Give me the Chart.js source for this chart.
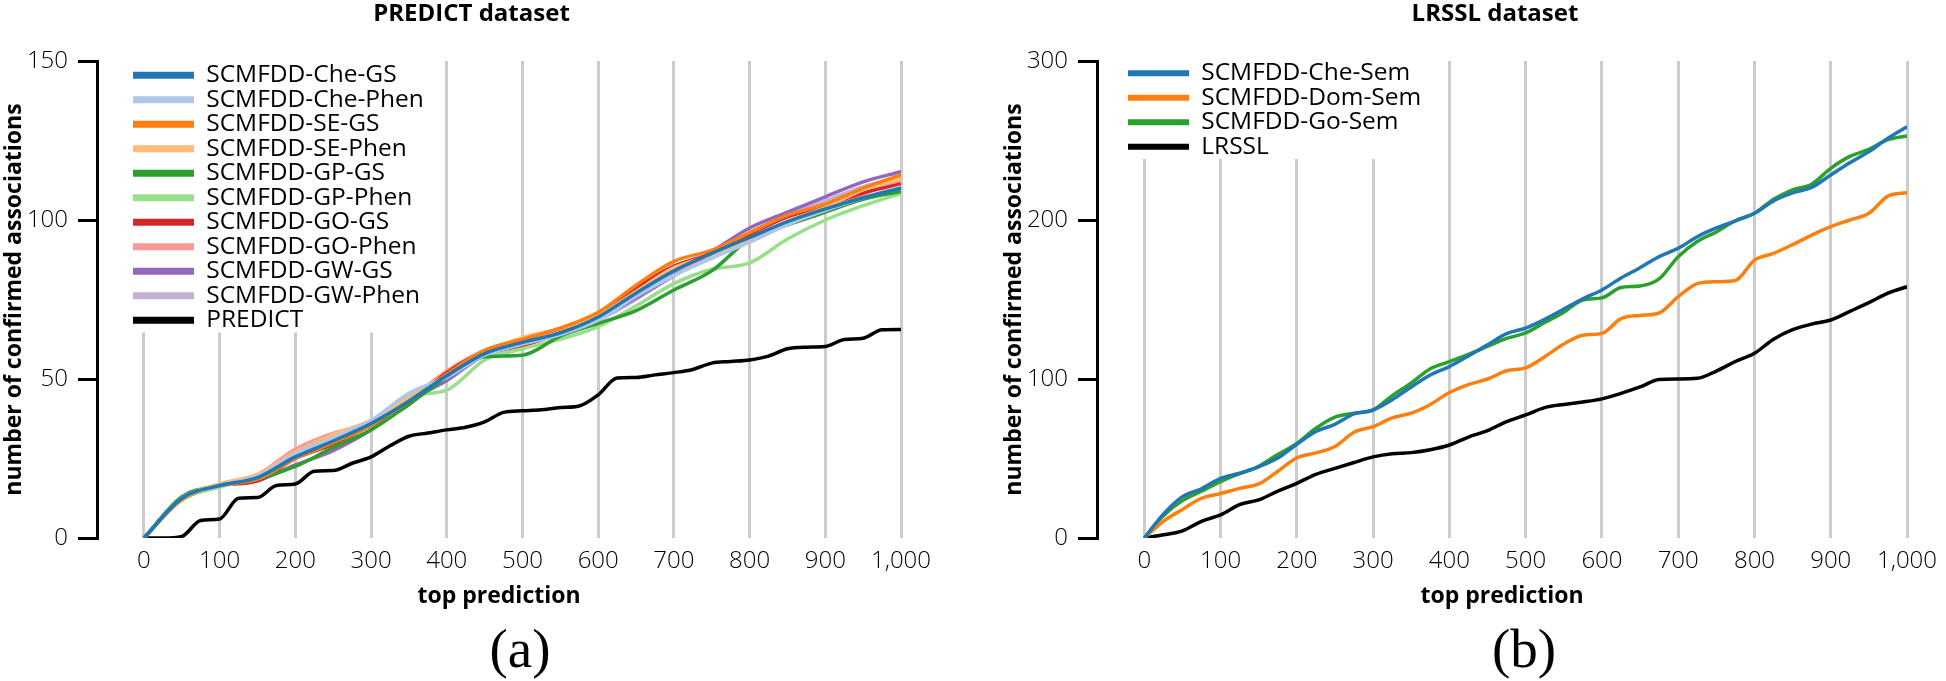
<!DOCTYPE html>
<html>
<head>
<meta charset="utf-8">
<script src="https://cdn.jsdelivr.net/npm/chart.js@4.4.1/dist/chart.umd.min.js"></script>
<style>
  html, body { margin: 0; padding: 0; background: #fff; overflow: hidden; }
  #wrap { position: relative; width: 1946px; height: 681px; }
  canvas { position: absolute; top: 0; }
  #predictChart { left: 0; }
  #lrsslChart { left: 1000px; }
  .caption {
    position: absolute; top: 621px; width: 200px; text-align: center;
    font-family: 'Liberation Serif', 'Times New Roman', serif;
    font-size: 55px; line-height: 55px; color: #000;
  }
</style>
</head>
<body>
<div id="wrap">
  <canvas id="predictChart" width="940" height="681"></canvas>
  <canvas id="lrsslChart" width="946" height="681"></canvas>
  <div class="caption" style="left:420px">(a)</div>
  <div class="caption" style="left:1424px">(b)</div>
</div>
<script>
// x axis (top prediction)
const xTicks = [0, 100, 200, 300, 400, 500, 600, 700, 800, 900, 1000];
const x25 = [0, 25, 50, 75, 100, 125, 150, 175, 200, 225, 250, 275, 300, 325, 350, 375, 400,
  425, 450, 475, 500, 525, 550, 575, 600, 625, 650, 675, 700, 725, 750, 775, 800, 825, 850,
  875, 900, 925, 950, 975, 1000];
const x50 = [0, 50, 100, 150, 200, 250, 300, 350, 400, 450, 500, 550, 600, 650, 700, 750,
  800, 850, 900, 950, 1000];

// PREDICT dataset (sampled every 50, baseline every 25)
const predictNames = ['SCMFDD-Che-GS', 'SCMFDD-Che-Phen', 'SCMFDD-SE-GS', 'SCMFDD-SE-Phen',
  'SCMFDD-GP-GS', 'SCMFDD-GP-Phen', 'SCMFDD-GO-GS', 'SCMFDD-GO-Phen', 'SCMFDD-GW-GS',
  'SCMFDD-GW-Phen', 'PREDICT'];
const predictColors = ['#1f77b4', '#aec7e8', '#ff7f0e', '#ffbb78', '#2ca02c', '#98df8a',
  '#d62728', '#ff9896', '#9467bd', '#c5b0d5', '#000000'];
const cheGS   = [0, 12.5, 16.5, 19, 25.5, 30.5, 36, 43, 51, 58, 61.5, 64.5, 69.5, 77, 84, 89.5, 94.5, 99.5, 103.5, 107, 110];
const chePhen = [0, 12.5, 16.5, 19.5, 26.5, 31.5, 37, 45.5, 50.5, 57.5, 61, 64, 68.5, 76, 82.5, 88, 93, 98.5, 103, 107, 110.5];
const seGS    = [0, 12, 16.5, 18.5, 25, 30, 35.5, 43, 51.5, 59, 62.5, 66, 71, 79.5, 87, 90.5, 96, 101.5, 105, 110, 114.2];
const sePhen  = [0, 12.5, 17, 20, 27, 32.5, 37, 44, 51, 58.5, 63, 66, 70, 77.5, 85, 89, 94, 99.5, 104, 109.5, 113];
const gpGS    = [0, 13, 16.5, 18.5, 22.5, 28.5, 34, 42, 50.5, 57, 57.5, 63.5, 67.5, 71.5, 78, 84, 94, 98.5, 102.5, 106.5, 109];
const gpPhen  = [0, 12, 16, 19.5, 26, 31.5, 36, 44.5, 46.5, 56, 59.5, 62.5, 66.5, 73, 80, 84.5, 86.5, 94, 100, 104.5, 108.4];
const goGS    = [0, 12.5, 16.5, 18, 25, 29.5, 35.5, 42, 52, 58.5, 60.5, 64.5, 69.5, 78.5, 85.5, 89.5, 95.5, 101, 104.5, 108.5, 111.3];
const goPhen  = [0, 12.5, 17, 20, 28, 33, 36, 43.5, 52.5, 59, 62, 65.5, 70.5, 79, 84, 88, 94.5, 98.5, 102.5, 108, 112.6];
const gwGS    = [0, 12.5, 16.5, 18, 23, 27.5, 34, 43, 49.5, 57.5, 60.5, 64.5, 69, 75.5, 82.5, 90, 97.5, 102.5, 107.3, 112, 115.2];
const gwPhen  = [0, 12.5, 16.5, 19, 26, 31, 36.5, 44.5, 50, 57.5, 61, 64, 68.5, 75, 83, 89, 96, 101.5, 106, 110.5, 113.6];
const predict = [0, 0, 0.5, 5.5, 6, 12.5, 12.7, 16.5, 17, 21, 21.2, 23.5, 25.5, 29, 32, 33, 34,
  34.8, 36.5, 39.5, 40, 40.3, 41, 41.5, 45, 50.3, 50.5, 51.3, 52, 53, 55, 55.5, 56, 57.2, 59.5,
  60, 60.2, 62.4, 62.8, 65.5, 65.6];

// LRSSL dataset (sampled every 25)
const lrsslNames = ['SCMFDD-Che-Sem', 'SCMFDD-Dom-Sem', 'SCMFDD-Go-Sem', 'LRSSL'];
const lrsslColors = ['#1f77b4', '#ff7f0e', '#2ca02c', '#000000'];
const cheSem = [0, 15, 26, 31, 37.5, 40.7, 44.8, 50.3, 59, 67, 71.5, 78, 80.5, 87, 95, 102.5,
  107.8, 114.5, 121.5, 128.5, 132, 137.5, 144, 150.5, 156, 163.5, 170, 177, 182.2, 189.5, 195,
  199.5, 204.2, 212, 217, 220.5, 228.3, 236, 243, 251.5, 258.7];
const domSem = [0, 10.5, 18, 25, 28, 31.2, 34, 42, 50.5, 53.5, 57.5, 66.5, 70, 75.5, 78.5, 84,
  91.5, 96.5, 100, 105.2, 107, 114, 122, 127.5, 128.7, 138, 140, 141.5, 151.8, 160, 161.2, 162,
  174.8, 179, 184.5, 190.5, 195.8, 200, 204.2, 215, 217.2];
const goSem = [0, 14, 23.5, 29.5, 35.5, 40.5, 45.1, 52.5, 59.5, 69, 76, 78.5, 80.5, 89.5, 97.5,
  106.5, 110.9, 115.5, 120.5, 125.5, 129, 135.5, 142, 149.7, 151, 157.5, 158.5, 163, 176.9,
  186.5, 192.5, 199.5, 204.2, 213, 219, 222.5, 232.5, 240, 244.5, 250.5, 252.8];
const lrssl = [0, 2, 4.5, 10.5, 14.5, 21, 24, 29.5, 34.4, 40, 43.8, 47.5, 51, 53, 53.7, 55.5,
  58.5, 63.5, 67.5, 73.2, 77.4, 82, 84, 85.5, 87.5, 91, 95, 99.7, 100, 100.4, 105, 111, 116.2,
  125, 131, 134.5, 137.1, 142.5, 148, 154, 158];

Chart.defaults.font.family = "'Open Sans', 'DejaVu Sans', sans-serif";
Chart.defaults.color = '#000';

function toPoints(xs, ys) {
  return ys.map((y, i) => ({ x: xs[i], y: y }));
}

function line(label, color, xs, ys) {
  return {
    label: label,
    data: toPoints(xs, ys),
    borderColor: color,
    backgroundColor: color,
    borderWidth: 3.5,
    pointRadius: 0,
    cubicInterpolationMode: 'monotone',
    fill: false
  };
}

// legend sits inside the plot with a white box behind it,
// title nudged sideways to where the original has it
const legendBox = {
  id: 'legendBox',
  afterLayout(chart, args, opts) {
    const lg = chart.legend;
    lg.left = chart.chartArea.left + opts.x;
    lg.top = chart.chartArea.top + opts.y;
    lg.height = lg.legendHitBoxes.reduce((s, b) => s + b.height, 0);
    lg.right = lg.left + lg.width;
    lg.bottom = lg.top + lg.height;

    const t = chart.titleBlock;
    t.left += opts.titleShift;
    t.right += opts.titleShift;
  },
  beforeDatasetsDraw(chart) {
    const lg = chart.legend;
    const top = chart.chartArea.top;
    const ctx = chart.ctx;
    ctx.save();
    ctx.fillStyle = '#fff';
    ctx.fillRect(lg.left, top, lg.width, lg.bottom - top);
    ctx.restore();
    lg.draw();
  }
};

function makeOptions(cfg) {
  return {
    responsive: false,
    animation: false,
    layout: { padding: { left: 0, right: cfg.padRight, top: 0, bottom: 0 } },
    plugins: {
      title: {
        display: true,
        text: cfg.title,
        color: '#000',
        font: { size: 24, weight: 'bold' },
        padding: { top: 0, bottom: 32.2 }
      },
      legend: {
        position: 'chartArea',
        align: 'start',
        labels: {
          boxWidth: 61,
          boxHeight: cfg.boxHeight,
          padding: 0,
          color: '#000',
          font: { size: 24.5 },
          generateLabels(chart) {
            return Chart.defaults.plugins.legend.labels.generateLabels(chart)
              .map(l => Object.assign(l, { lineWidth: 0 }));
          }
        }
      },
      tooltip: { enabled: false },
      legendBox: { x: cfg.legendX, y: cfg.legendY, titleShift: cfg.titleShift }
    },
    scales: {
      x: {
        type: 'linear',
        min: -62,
        max: 1000,
        afterBuildTicks(s) { s.ticks = xTicks.map(v => ({ value: v })); },
        afterFit(s) { s.height = 143; },
        border: { display: false },
        grid: { color: '#cccccc', lineWidth: 3, drawTicks: false },
        ticks: {
          autoSkip: false,
          maxRotation: 0,
          padding: 9,
          color: '#000',
          font: { size: 24, weight: 300 },
          callback: v => v.toLocaleString('en-US')
        },
        title: {
          display: true,
          text: 'top prediction',
          color: '#000',
          font: { size: 23, weight: 'bold' },
          padding: { top: 0, bottom: 71 }
        }
      },
      y: {
        min: 0,
        max: cfg.yMax,
        afterFit(s) { s.width = 97; },
        border: { color: '#000', width: 3 },
        grid: { drawOnChartArea: false, drawTicks: true, tickLength: 19, color: '#000', lineWidth: 3 },
        ticks: {
          stepSize: cfg.yStep,
          padding: 10,
          color: '#000',
          font: { size: 24, weight: 300 }
        },
        title: {
          display: true,
          text: 'number of confirmed associations',
          color: '#000',
          font: { size: 23, weight: 'bold' },
          padding: { top: 1, bottom: 0 }
        }
      }
    }
  };
}

const predictSeries = [cheGS, chePhen, seGS, sePhen, gpGS, gpPhen, goGS, goPhen, gwGS, gwPhen];
const predictSets = predictSeries.map((ys, i) => line(predictNames[i], predictColors[i], x50, ys));
predictSets.push(line(predictNames[10], predictColors[10], x25, predict));

new Chart(document.getElementById('predictChart'), {
  type: 'line',
  data: { datasets: predictSets },
  options: makeOptions({ title: 'PREDICT dataset', titleShift: 15, padRight: 27,
    yMax: 150, yStep: 50, legendX: 36, legendY: 2, boxHeight: 7 }),
  plugins: [legendBox]
});

const lrsslSeries = [cheSem, domSem, goSem, lrssl];
new Chart(document.getElementById('lrsslChart'), {
  type: 'line',
  data: { datasets: lrsslSeries.map((ys, i) => line(lrsslNames[i], lrsslColors[i], x25, ys)) },
  options: makeOptions({ title: 'LRSSL dataset', titleShift: 39, padRight: 34,
    yMax: 300, yStep: 100, legendX: 31, legendY: 0, boxHeight: 6 }),
  plugins: [legendBox]
});
</script>
</body>
</html>
